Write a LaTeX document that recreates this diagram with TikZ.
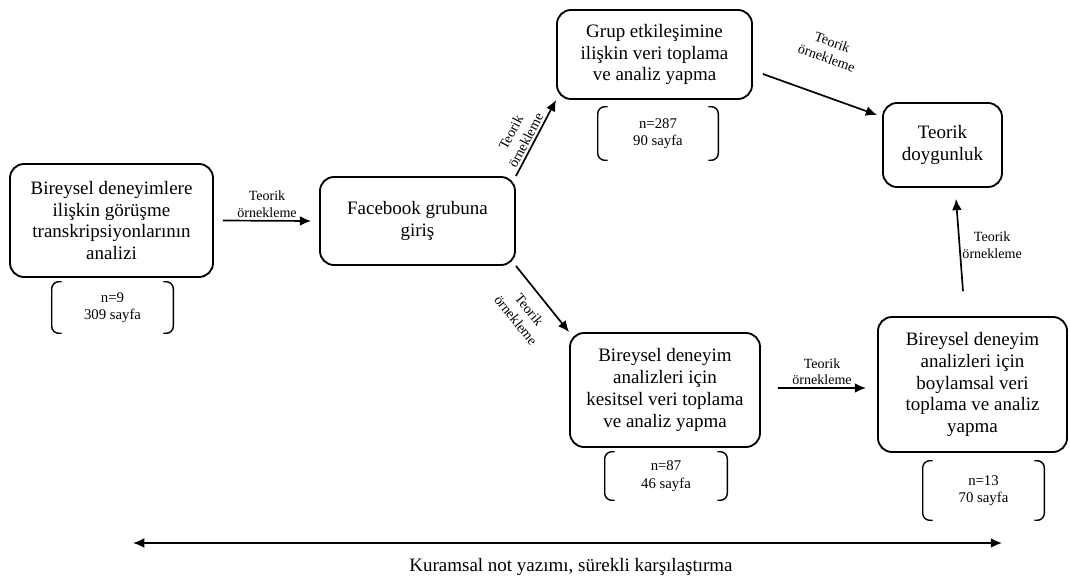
\documentclass[tikz,border=0pt]{standalone}
\usepackage{fontspec}
\setmainfont{Liberation Serif}
\usetikzlibrary{arrows.meta}

\begin{document}
\begin{tikzpicture}[x=0.025cm, y=-0.025cm,
		kutu/.style={draw, line width=1.3pt, rounded corners=10pt, align=center, inner sep=0pt, font=\fontsize{13.5}{15.5}\selectfont},
		parantez/.style={align=center, inner sep=0pt, font=\fontsize{10.5}{12.5}\selectfont},
		etiket/.style={align=center, inner sep=1.5pt, font=\fontsize{10}{12}\selectfont},
		ok/.style={-{Latex[length=8pt,width=7pt]}, line width=1.2pt},
		ayrac/.style={line width=1pt, rounded corners=5pt}]
	\useasboundingbox (0,0) rectangle (1070,577);
	% kutular
	\node[kutu, minimum width=5.075cm, minimum height=2.825cm] (b1) at (111.5,220.5) {Bireysel deneyimlere\\ilişkin görüşme\\transkripsiyonlarının\\analizi};
	\node[kutu, minimum width=4.875cm, minimum height=2.2cm] (b2) at (417.5,221) {Facebook grubuna\\giriş};
	\node[kutu, minimum width=4.875cm, minimum height=2.225cm] (b3) at (654.5,54.5) {Grup etkileşimine\\ilişkin veri toplama\\ve analiz yapma};
	\node[kutu, minimum width=4.75cm, minimum height=2.85cm] (b4) at (665,390) {Bireysel deneyim\\analizleri için\\kesitsel veri toplama\\ve analiz yapma};
	\node[kutu, minimum width=4.725cm, minimum height=3.375cm] (b5) at (972.5,384.5) {Bireysel deneyim\\analizleri için\\boylamsal veri\\toplama ve analiz\\yapma};
	\node[kutu, minimum width=2.975cm, minimum height=2.1cm] (b6) at (942.5,145) {Teorik\\doygunluk};
	% parantezler
	\node[parantez, minimum width=3.025cm, minimum height=1.275cm] (p1) at (112.5,307.5) {n=9\\309 sayfa};
	\node[parantez, minimum width=3cm, minimum height=1.325cm] (p3) at (658,133.5) {n=287\\90 sayfa};
	\node[parantez, minimum width=3.05cm, minimum height=1.2cm] (p4) at (666,476) {n=87\\46 sayfa};
	\node[parantez, minimum width=3.025cm, minimum height=1.475cm] (p5) at (983.5,490.5) {n=13\\70 sayfa};
	\foreach \p in {p1,p3,p4,p5} {
		\draw[ayrac] ([shift={(10,0)}]\p.north west) -- (\p.north west) -- (\p.south west) -- ([shift={(10,0)}]\p.south west);
		\draw[ayrac] ([shift={(-10,0)}]\p.north east) -- (\p.north east) -- (\p.south east) -- ([shift={(-10,0)}]\p.south east);
	}
	% oklar
	\draw[ok] ([shift={(9,0)}]b1.east) -- node[etiket, above] {Teorik\\örnekleme} ([shift={(-8,0)}]b2.west);
	\draw[ok] (b2.north east) -- node[etiket, sloped, above, pos=0.42] {Teorik\\örnekleme} (b3.south west);
	\draw[ok] (b2.south east) -- node[etiket, sloped, below, inner sep=8pt] {Teorik\\örnekleme} (b4.north west);
	\draw[ok] ([shift={(17,-2)}]b4.east) -- node[etiket, above] {Teorik\\örnekleme} ([shift={(-11,3.5)}]b5.west);
	\draw[ok] ([shift={(-9.5,-25)}]b5.north) -- node[etiket, right] {Teorik\\örnekleme} ([shift={(13.5,11)}]b6.south);
	\draw[ok] ([shift={(10,19.5)}]b3.east) -- node[etiket, sloped, above, inner sep=22pt, pos=0.45] {Teorik\\örnekleme} ([shift={(-5,-30)}]b6.west);
	% alt ok
	\coordinate (sol) at (133,543);
	\coordinate (sag) at (1002,543);
	\draw[{Latex[length=8pt,width=7pt]}-{Latex[length=8pt,width=7pt]}, line width=1.2pt] (sol) -- (sag);
	\node[font=\fontsize{13.5}{15.5}\selectfont] (alt) at (571,567) {Kuramsal not yazımı, sürekli karşılaştırma};
\end{tikzpicture}
\end{document}
